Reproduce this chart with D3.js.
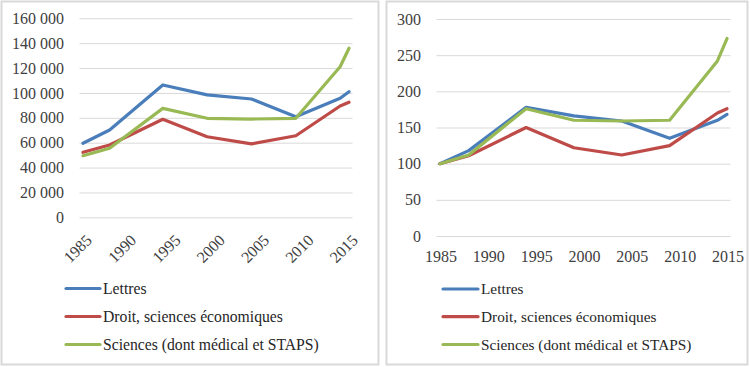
<!DOCTYPE html>
<html><head><meta charset="utf-8">
<script src="https://cdn.jsdelivr.net/npm/d3@7"></script>
<style>
html,body{margin:0;padding:0;background:#fff;}
svg{display:block;}
</style></head>
<body>
<svg id="c" width="750" height="367"></svg>
<script>
// ---- data ----
const years = [1985, 1988, 1994, 1999, 2004, 2009, 2014, 2015];
const tickYears = [1985, 1990, 1995, 2000, 2005, 2010, 2015];
const seriesNames = ["Lettres", "Droit, sciences économiques", "Sciences (dont médical et STAPS)"];
const colors = ["#4A7EBB", "#BE4B48", "#98B954"];
// left panel: enrolment counts
const lettresCount = [59500, 70200, 106400, 98400, 95100, 80900, 95700, 101000];
const droitCount = [52300, 58100, 78800, 64800, 59000, 65600, 89500, 92500];
const sciencesCount = [49500, 55500, 87600, 79600, 79000, 79600, 121100, 135900];
const leftYTicks = [0, 20000, 40000, 60000, 80000, 100000, 120000, 140000, 160000];
// right panel: index base 100 in 1985
const lettresIndex = [100, 118, 178, 166, 159, 135, 160, 168];
const droitIndex = [100, 111, 150, 122, 112, 125, 170, 176];
const sciencesIndex = [100, 112, 176, 160, 159, 160, 242, 273];
const rightYTicks = [0, 50, 100, 150, 200, 250, 300];

const FONT = "'Liberation Serif', 'Times New Roman', 'DejaVu Serif', serif";
const svg = d3.select("#c");
const fmtSpace = d => d3.format(",")(d).replace(/,/g, "\u00a0");

// panel frames
svg.append("rect").attr("x", 1.5).attr("y", 1.5).attr("width", 377).attr("height", 363)
  .attr("fill", "#fff").attr("stroke", "#d9d9d9").attr("stroke-width", 2);
svg.append("rect").attr("x", 386.5).attr("y", 1.5).attr("width", 361).attr("height", 363)
  .attr("fill", "#fff").attr("stroke", "#d9d9d9").attr("stroke-width", 2);

function panel(cfg) {
  const g = svg.append("g").attr("font-family", FONT);
  const x = d3.scaleLinear().domain([1985, 2015]).range([cfg.x0, cfg.x1]);
  const y = d3.scaleLinear().domain([0, cfg.yMax]).range([cfg.yBottom, cfg.yTop]);

  const yAxis = d3.axisLeft(y).tickValues(cfg.yTicks).tickSize(-(cfg.gx1 - cfg.gx0))
    .tickFormat(cfg.fmt).tickPadding(cfg.gx0 - cfg.labelRight);
  const ya = g.append("g").attr("transform", `translate(${cfg.gx0},0)`).call(yAxis)
    .attr("font-family", FONT);
  ya.select(".domain").remove();
  ya.selectAll(".tick line").attr("stroke", "#d9d9d9").attr("stroke-width", 1);
  ya.selectAll(".tick text").attr("font-size", 16).attr("fill", "#404040")
    .attr("font-family", FONT);

  const xl = g.append("g");
  if (cfg.rotate) {
    xl.selectAll("text").data(tickYears).join("text")
      .attr("transform", d => `translate(${x(d) + 2},${cfg.yBottom + 16}) rotate(-45)`)
      .attr("text-anchor", "end").attr("dy", "0.7em")
      .attr("font-family", FONT).attr("fill", "#404040")
      .attr("font-size", 16).text(d => d);
  } else {
    xl.selectAll("text").data(tickYears).join("text")
      .attr("x", d => x(d) + 1).attr("y", cfg.yBottom + 26)
      .attr("text-anchor", "middle").attr("font-family", FONT).attr("fill", "#404040")
      .attr("font-size", 16).text(d => d);
  }

  const line = d3.line().x((d, i) => x(years[i])).y(d => y(d));
  cfg.series.forEach((s, k) => {
    g.append("path").datum(s).attr("d", line).attr("fill", "none")
      .attr("stroke", colors[k]).attr("stroke-width", 3.2)
      .attr("stroke-linejoin", "round").attr("stroke-linecap", "round");
  });

  const lg = g.append("g");
  seriesNames.forEach((n, k) => {
    const ly = cfg.legY[k];
    lg.append("line").attr("x1", cfg.legX).attr("x2", cfg.legX + cfg.legLen)
      .attr("y1", ly).attr("y2", ly).attr("stroke", colors[k]).attr("stroke-width", 3.2)
      .attr("stroke-linecap", "round");
    lg.append("text").attr("x", cfg.legX + cfg.legLen + 3).attr("y", ly).attr("dy", "0.35em")
      .attr("font-family", FONT).attr("font-size", cfg.legFont).attr("fill", "#262626").text(n);
  });
}

panel({
  x0: 83, x1: 349, gx0: 79.5, gx1: 352.5,
  yTop: 18.3, yBottom: 217.3, yMax: 160000, yTicks: leftYTicks,
  fmt: fmtSpace, labelRight: 64, rotate: true,
  series: [lettresCount, droitCount, sciencesCount],
  legX: 66, legLen: 34, legY: [288.5, 316.5, 344.5], legFont: 15.7
});
panel({
  x0: 440, x1: 727, gx0: 436.5, gx1: 730.5,
  yTop: 19, yBottom: 236, yMax: 300, yTicks: rightYTicks,
  fmt: d3.format("d"), labelRight: 421, rotate: false,
  series: [lettresIndex, droitIndex, sciencesIndex],
  legX: 443, legLen: 35, legY: [289, 316.7, 344.5], legFont: 15.3
});
</script>
</body></html>
